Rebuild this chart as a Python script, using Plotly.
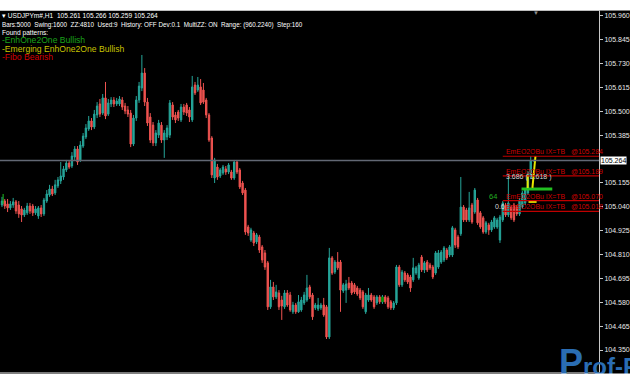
import plotly.graph_objects as go

# ---------------- data (USDJPY H1) ----------------
opens = [
    105.049, 105.068, 105.054, 105.035, 105.049, 105.064, 105.049, 105.030, 105.001, 105.011,
    105.044, 105.044, 105.011, 104.996, 105.035, 105.006, 105.068, 105.097, 105.126, 105.107,
    105.141, 105.165, 105.184, 105.218, 105.251, 105.237, 105.280, 105.319, 105.266, 105.333,
    105.377, 105.415, 105.454, 105.425, 105.483, 105.536, 105.492, 105.565, 105.487, 105.536,
    105.555, 105.536, 105.536, 105.555, 105.526, 105.507, 105.492, 105.343, 105.468, 105.555,
    105.613, 105.685, 105.545, 105.473, 105.434, 105.348, 105.386, 105.434, 105.362, 105.377,
    105.386, 105.531, 105.483, 105.497, 105.459, 105.521, 105.531, 105.507, 105.459, 105.627,
    105.603, 105.618, 105.603, 105.555, 105.483, 105.372, 105.179, 105.232, 105.189, 105.203,
    105.223, 105.208, 105.208, 105.179, 105.256, 105.218, 105.155, 105.121, 104.943, 104.880,
    104.914, 104.871, 104.895, 104.847, 104.818, 104.770, 104.558, 104.654, 104.606, 104.625,
    104.591, 104.558, 104.625, 104.615, 104.534, 104.567, 104.534, 104.543, 104.577, 104.591,
    104.654, 104.615, 104.553, 104.548, 104.553, 104.567, 104.558, 104.413, 104.794, 104.726,
    104.774, 104.774, 104.635, 104.639, 104.673, 104.673, 104.664, 104.649, 104.639, 104.630,
    104.534, 104.591, 104.615, 104.606, 104.577, 104.606, 104.582, 104.606, 104.601, 104.582,
    104.553, 104.577, 104.750, 104.664, 104.721, 104.712, 104.702, 104.688, 104.721, 104.697,
    104.798, 104.736, 104.774, 104.760, 104.750, 104.721, 104.750, 104.774, 104.784, 104.832,
    104.808, 104.808, 104.929, 104.895, 104.910, 105.039, 105.025, 104.977, 105.049, 105.015,
    105.073, 105.011, 104.987, 104.919, 104.953, 104.929, 104.943, 104.943, 104.880, 104.977,
    105.049, 105.001, 105.039, 105.049, 105.039, 105.006, 105.039, 105.059, 105.107, 105.184,
    105.261,
]
highs = [
    105.088, 105.078, 105.078, 105.068, 105.083, 105.073, 105.068, 105.044, 105.035, 105.059,
    105.059, 105.054, 105.044, 105.044, 105.049, 105.083, 105.121, 105.146, 105.141, 105.170,
    105.184, 105.256, 105.237, 105.266, 105.261, 105.304, 105.333, 105.333, 105.357, 105.396,
    105.439, 105.478, 105.468, 105.507, 105.545, 105.560, 105.584, 105.642, 105.560, 105.569,
    105.569, 105.565, 105.574, 105.569, 105.541, 105.526, 105.507, 105.483, 105.574, 105.642,
    105.772, 105.709, 105.565, 105.492, 105.449, 105.410, 105.459, 105.449, 105.410, 105.434,
    105.555, 105.545, 105.497, 105.507, 105.536, 105.536, 105.541, 105.521, 105.671, 105.642,
    105.666, 105.656, 105.637, 105.565, 105.492, 105.381, 105.276, 105.247, 105.227, 105.242,
    105.237, 105.251, 105.218, 105.266, 105.266, 105.227, 105.165, 105.131, 104.953, 104.939,
    104.924, 104.914, 104.905, 104.856, 104.832, 104.779, 104.688, 104.678, 104.664, 104.639,
    104.611, 104.639, 104.639, 104.630, 104.582, 104.577, 104.615, 104.606, 104.630, 104.712,
    104.664, 104.625, 104.577, 104.601, 104.577, 104.601, 104.567, 104.842, 104.803, 104.784,
    104.822, 104.784, 104.673, 104.688, 104.702, 104.683, 104.673, 104.659, 104.649, 104.639,
    104.625, 104.649, 104.625, 104.615, 104.615, 104.615, 104.615, 104.615, 104.611, 104.591,
    104.586, 104.760, 104.760, 104.736, 104.731, 104.721, 104.712, 104.794, 104.755, 104.770,
    104.808, 104.779, 104.784, 104.770, 104.760, 104.827, 104.832, 104.832, 104.851, 104.842,
    104.856, 104.948, 104.939, 104.905, 105.184, 105.049, 105.035, 105.112, 105.059, 105.131,
    105.083, 105.020, 104.996, 104.972, 104.963, 104.977, 104.996, 104.987, 105.001, 105.068,
    105.059, 105.184, 105.049, 105.059, 105.049, 105.083, 105.117, 105.131, 105.213, 105.285,
    105.266,
]
lows = [
    105.039, 105.030, 105.015, 105.025, 105.035, 105.006, 104.987, 104.967, 104.991, 105.001,
    105.006, 104.996, 105.001, 104.982, 104.991, 104.996, 105.059, 105.088, 105.092, 105.097,
    105.131, 105.150, 105.170, 105.208, 105.223, 105.227, 105.266, 105.242, 105.256, 105.324,
    105.367, 105.406, 105.410, 105.415, 105.468, 105.473, 105.483, 105.463, 105.478, 105.521,
    105.521, 105.526, 105.526, 105.507, 105.487, 105.473, 105.328, 105.333, 105.454, 105.541,
    105.598, 105.526, 105.430, 105.348, 105.333, 105.333, 105.372, 105.348, 105.276, 105.362,
    105.372, 105.459, 105.444, 105.454, 105.449, 105.483, 105.478, 105.449, 105.449, 105.579,
    105.594, 105.531, 105.536, 105.468, 105.353, 105.179, 105.155, 105.170, 105.179, 105.194,
    105.194, 105.198, 105.170, 105.170, 105.198, 105.126, 105.097, 104.905, 104.900, 104.871,
    104.851, 104.861, 104.818, 104.770, 104.736, 104.543, 104.548, 104.591, 104.596, 104.543,
    104.495, 104.548, 104.558, 104.534, 104.524, 104.524, 104.529, 104.534, 104.567, 104.582,
    104.596, 104.495, 104.543, 104.538, 104.543, 104.510, 104.403, 104.403, 104.712, 104.716,
    104.736, 104.534, 104.625, 104.577, 104.639, 104.615, 104.620, 104.611, 104.591, 104.548,
    104.524, 104.582, 104.582, 104.548, 104.567, 104.572, 104.572, 104.572, 104.548, 104.543,
    104.543, 104.567, 104.654, 104.654, 104.678, 104.668, 104.630, 104.678, 104.712, 104.688,
    104.726, 104.721, 104.726, 104.736, 104.692, 104.712, 104.741, 104.765, 104.774, 104.784,
    104.798, 104.798, 104.842, 104.837, 104.900, 104.967, 104.967, 104.967, 104.958, 105.006,
    104.953, 104.934, 104.910, 104.910, 104.905, 104.919, 104.934, 104.934, 104.866, 104.967,
    104.991, 104.991, 104.977, 104.967, 104.996, 104.996, 105.030, 105.049, 105.097, 105.174,
    105.259,
]
closes = [
    105.068, 105.044, 105.035, 105.054, 105.064, 105.020, 105.006, 105.001, 105.025, 105.044,
    105.020, 105.011, 105.030, 105.035, 105.006, 105.073, 105.102, 105.126, 105.102, 105.146,
    105.170, 105.189, 105.223, 105.251, 105.232, 105.285, 105.319, 105.256, 105.338, 105.381,
    105.420, 105.454, 105.425, 105.487, 105.526, 105.487, 105.565, 105.478, 105.541, 105.555,
    105.536, 105.550, 105.560, 105.521, 105.502, 105.487, 105.343, 105.468, 105.555, 105.622,
    105.685, 105.545, 105.444, 105.362, 105.348, 105.396, 105.444, 105.362, 105.396, 105.420,
    105.541, 105.473, 105.459, 105.468, 105.521, 105.497, 105.492, 105.473, 105.618, 105.589,
    105.627, 105.541, 105.545, 105.483, 105.362, 105.194, 105.266, 105.184, 105.218, 105.232,
    105.208, 105.242, 105.179, 105.256, 105.208, 105.136, 105.107, 104.919, 104.914, 104.929,
    104.866, 104.905, 104.832, 104.784, 104.750, 104.558, 104.654, 104.606, 104.630, 104.558,
    104.562, 104.625, 104.567, 104.543, 104.567, 104.534, 104.582, 104.591, 104.615, 104.649,
    104.606, 104.510, 104.567, 104.567, 104.567, 104.519, 104.413, 104.794, 104.721, 104.774,
    104.746, 104.639, 104.664, 104.668, 104.649, 104.625, 104.630, 104.620, 104.601, 104.558,
    104.615, 104.615, 104.591, 104.558, 104.606, 104.582, 104.606, 104.582, 104.558, 104.553,
    104.577, 104.750, 104.664, 104.726, 104.688, 104.678, 104.649, 104.746, 104.746, 104.760,
    104.736, 104.770, 104.736, 104.746, 104.702, 104.818, 104.818, 104.822, 104.842, 104.794,
    104.847, 104.939, 104.856, 104.847, 105.039, 104.977, 104.977, 105.035, 104.967, 105.121,
    104.963, 104.943, 104.919, 104.963, 104.929, 104.967, 104.987, 104.977, 104.991, 105.059,
    105.001, 105.059, 104.987, 104.977, 105.006, 105.073, 105.107, 105.121, 105.203, 105.261,
    105.264,
]
assert len(opens) == len(highs) == len(lows) == len(closes)

tick_labels = ["105.960", "105.845", "105.730", "105.615", "105.500", "105.385",
               "105.155", "105.040", "104.925", "104.810", "104.695", "104.580",
               "104.465", "104.350"]

symbol = "USDJPYm#,H1"
info_line = "Bars:5000  Swing:1600  ZZ:4810  Used:9  History: OFF Dev:0.1  MultiZZ: ON  Range: (960.2240)  Step:160"
found_patterns = ["-EnhOne2One Bullish", "-Emerging EnhOne2One Bullish", "-Fibo Bearish"]
found_colors = ["#1aa31a", "#c8c400", "#d40000"]

pattern_start = 179
pattern_levels = [105.284, 105.189, 105.070, 105.018]
pattern_name = "EmEO2OBu IX=TB"

fib_text = "3.686 ( 1.618 )"
fib_price = 105.186
fib_x = 179.5
count_text, count_x, count_price = "64", 173.5, 105.092
ratio_text, ratio_x, ratio_price = "0.6", 175.6, 105.044

green_bar_x = [185.7, 196.7]
green_bar_y = [105.126, 105.126]
yellow_a_x, yellow_a_y = [190.7, 189.6], [105.285, 105.131]
yellow_b_x, yellow_b_y = [187.9, 187.9], [105.194, 105.131]
yellow_c_x, yellow_c_y = [188.2, 191.1], [105.064, 105.064]
green_tick_x, green_tick_y = [0.4, 0.4], [105.102, 105.054]
green_mark_x, green_mark_y = [136, 136], [104.582, 104.606]

watermark = "<b><span style='font-size:36px'>P</span>rof-F</b>"

# ---------------- layout geometry ----------------
W, H = 630, 380
PLOT_W, TOP, BOTTOM = 604, 11, 372
x_range = [-0.71, 213.4]
y_range = [104.244, 105.984]

def px(x):
    return x / PLOT_W

def py(y):
    return (BOTTOM - y) / (BOTTOM - TOP)

TEAL = "#26a69a"
RED = "#ef5350"
FONT = "Liberation Sans"

xs = list(range(len(closes)))

fig = go.Figure()
fig.add_trace(go.Candlestick(
    x=xs, open=opens, high=highs, low=lows, close=closes,
    increasing=dict(line=dict(color=TEAL, width=1), fillcolor=TEAL),
    decreasing=dict(line=dict(color=RED, width=1), fillcolor=RED),
    whiskerwidth=0, showlegend=False, hoverinfo="skip"))

def seg(x, y, color, width):
    fig.add_trace(go.Scatter(x=x, y=y, mode="lines", line=dict(color=color, width=width),
                             showlegend=False, hoverinfo="skip"))

seg(green_tick_x, green_tick_y, "#20c020", 1)
seg(green_mark_x, green_mark_y, "#0a8a0a", 3)
seg(green_bar_x, green_bar_y, "#22c022", 3)
seg(yellow_a_x, yellow_a_y, "#e8e800", 2)
seg(yellow_b_x, yellow_b_y, "#e8e800", 2)
seg(yellow_c_x, yellow_c_y, "#e8e800", 2)

shapes = []
# last price line
shapes.append(dict(type="line", xref="paper", x0=0, x1=1, yref="y",
                   y0=closes[-1], y1=closes[-1], line=dict(color="#626874", width=1.5)))
# pattern levels
for lvl in pattern_levels:
    shapes.append(dict(type="line", xref="x", x0=pattern_start, x1=x_range[1], yref="y",
                       y0=lvl, y1=lvl, line=dict(color="#c00000", width=1.2)))
# white strip top
shapes.append(dict(type="rect", xref="paper", yref="paper", x0=-0.05, x1=1.1,
                   y0=py(10.5), y1=py(-5), fillcolor="white", line=dict(width=0), layer="above"))

ann = []
def text(x, y, s, color, size, xanchor="left", yanchor="middle", xref="paper", yref="paper", **kw):
    ann.append(dict(x=x, y=y, xref=xref, yref=yref, text=s, showarrow=False,
                    xanchor=xanchor, yanchor=yanchor,
                    font=dict(family=FONT, size=size, color=color), **kw))

# watermark (drawn first so other texts sit over it), cut by the bottom white strip
text(px(562), py(385), watermark, "#2a6db3", 24, yanchor="bottom")
ann.append(dict(x=px(315), y=py(372.6), xref="paper", yref="paper", text=" ",
                showarrow=False, xanchor="center", yanchor="top", width=660, height=14,
                bgcolor="white", borderpad=0, font=dict(size=6, color="white")))

header = "\u25be " + symbol + "  " + " ".join(f"{v:.3f}" for v in (opens[-1], highs[-1], lows[-1], closes[-1]))
text(px(0), py(16), header, "#ffffff", 6.6)
text(px(0), py(25), info_line, "#ffffff", 6.3)
text(px(0), py(33), "Found patterns:", "#ffffff", 6.6)
for i, (name, col) in enumerate(zip(found_patterns, found_colors)):
    text(px(0), py(40 + 8.5 * i), name, col, 8.6)

for lvl in pattern_levels:
    text(pattern_start + 0.6, lvl, f"{pattern_name}   @{lvl:.3f}", "#d00000", 6.9,
         yanchor="bottom", xref="x", yref="y", yshift=-1)
text(fib_x, fib_price, fib_text, "#d0d0d0", 7, xref="x", yref="y")
text(count_x, count_price, count_text, "#22b022", 7.5, xref="x", yref="y")
text(ratio_x, ratio_price, ratio_text, "#d8d8d8", 7, xref="x", yref="y")

# current price label on axis
ann.append(dict(x=1, y=closes[-1], xref="paper", yref="y", text=f"{closes[-1]:.3f}",
                showarrow=False, xanchor="left", yanchor="middle", xshift=1,
                bgcolor="white", borderpad=0,
                font=dict(family=FONT, size=7, color="black")))
# chart shift marker
text(px(540), py(13), "\u25bc", "#8c8c8c", 6, xanchor="center")

fig.update_layout(
    width=W, height=H,
    margin=dict(l=0, r=W - PLOT_W, t=TOP, b=H - BOTTOM),
    paper_bgcolor="black", plot_bgcolor="black",
    showlegend=False,
    shapes=shapes, annotations=ann,
    xaxis=dict(range=x_range, showgrid=False, zeroline=False, showticklabels=False,
               ticks="", rangeslider=dict(visible=False), showline=True, mirror=True,
               linecolor="#7a7a7a", linewidth=1, fixedrange=True),
    yaxis=dict(range=y_range, side="right", tickmode="array",
               tickvals=[float(t) for t in tick_labels], ticktext=tick_labels,
               ticks="outside", ticklen=3, tickcolor="#c8c8c8",
               tickfont=dict(family=FONT, size=7, color="#e8e8e8"),
               showgrid=False, zeroline=False, showline=True,
               linecolor="#c8c8c8", linewidth=1, fixedrange=True),
)

fig.write_html("out.html")
